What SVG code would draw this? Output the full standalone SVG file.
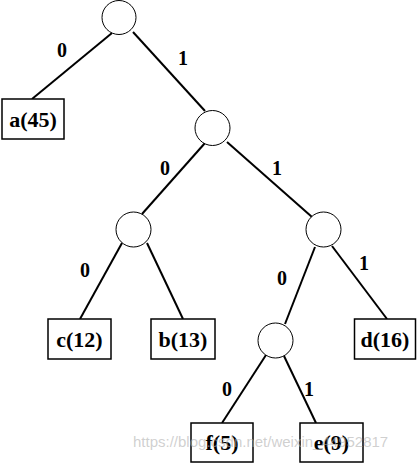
<svg xmlns="http://www.w3.org/2000/svg" width="417" height="463" viewBox="0 0 417 463">
<style>
.e{stroke:#000;stroke-width:2;fill:none}
.c{fill:#fff;stroke:#000;stroke-width:1}
.b{fill:#fff;stroke:#000;stroke-width:1.5}
.t{font-family:"Liberation Serif",serif;font-weight:bold;font-size:22px;text-anchor:middle;fill:#000}
.l{font-family:"Liberation Serif",serif;font-weight:bold;font-size:20px;text-anchor:middle;fill:#000}
.w{font-family:"Liberation Sans",Arial,sans-serif;font-size:15px;fill:#b0b0b0;fill-opacity:0.6}
</style>
<g id="connectors">
<line class="e" x1="112" y1="33" x2="32" y2="99"/>
<line class="e" x1="133" y1="32" x2="205" y2="111"/>
<line class="e" x1="205" y1="143" x2="142" y2="214"/>
<line class="e" x1="227" y1="142" x2="312" y2="217"/>
<line class="e" x1="122" y1="243" x2="80" y2="319"/>
<line class="e" x1="147" y1="243" x2="183" y2="319"/>
<line class="e" x1="315" y1="247" x2="285" y2="324"/>
<line class="e" x1="332" y1="246" x2="387" y2="319"/>
<line class="e" x1="266" y1="355" x2="222" y2="423"/>
<line class="e" x1="284" y1="356" x2="316" y2="423"/>
<text class="l" x="62" y="57">0</text>
<text class="l" x="183" y="65">1</text>
<text class="l" x="165" y="175">0</text>
<text class="l" x="277" y="175">1</text>
<text class="l" x="85" y="277">0</text>
<text class="l" x="282" y="285">0</text>
<text class="l" x="364" y="270">1</text>
<text class="l" x="227" y="396">0</text>
<text class="l" x="309" y="396">1</text>
</g>
<g id="n1"><circle class="c" cx="119" cy="17.5" r="17"/></g>
<g id="n2"><circle class="c" cx="212.5" cy="128" r="17.5"/></g>
<g id="n3"><circle class="c" cx="133.5" cy="229.5" r="17.5"/></g>
<g id="n4"><circle class="c" cx="323.5" cy="229.5" r="17.5"/></g>
<g id="n5"><circle class="c" cx="275.5" cy="340.5" r="17.5"/></g>
<g id="a"><rect class="b" x="2" y="99" width="62" height="40"/><text class="t" x="33" y="127">a(45)</text></g>
<g id="c"><rect class="b" x="48" y="319" width="63" height="40"/><text class="t" x="79.5" y="347">c(12)</text></g>
<g id="b"><rect class="b" x="151" y="319" width="64" height="40"/><text class="t" x="183" y="347">b(13)</text></g>
<g id="d"><rect class="b" x="354.5" y="319" width="61" height="40"/><text class="t" x="385" y="347">d(16)</text></g>
<g id="f"><rect class="b" x="191" y="423" width="62" height="39"/><text class="t" x="222" y="450">f(5)</text></g>
<g id="e9"><rect class="b" x="300" y="423" width="63" height="39"/><text class="t" x="331.5" y="450">e(9)</text></g>
<text class="w" x="133" y="447">https://blog.csdn.net/weixin_44952817</text>
</svg>
